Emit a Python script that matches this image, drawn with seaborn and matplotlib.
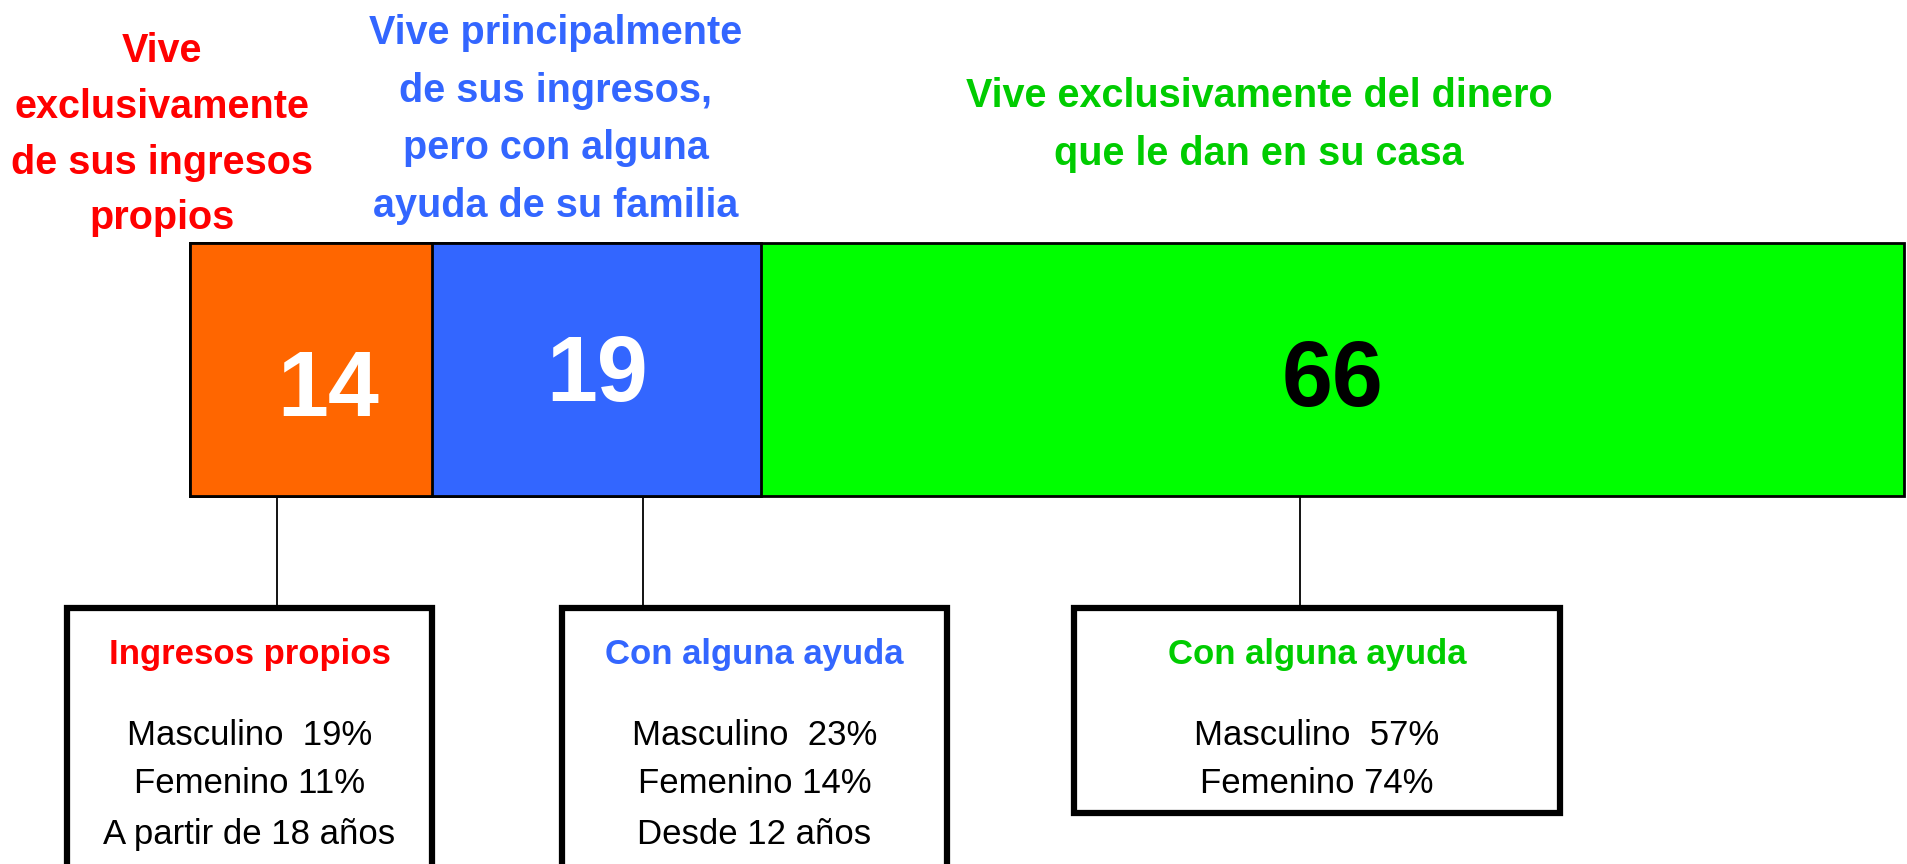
import matplotlib
matplotlib.use("Agg")
import matplotlib.pyplot as plt
from matplotlib.patches import Rectangle
from matplotlib.lines import Line2D
import seaborn as sns
import pandas as pd
import numpy as np

# ---------------- data ----------------
categories = [
    "Vive exclusivamente de sus ingresos propios",
    "Vive principalmente de sus ingresos, pero con alguna ayuda de su familia",
    "Vive exclusivamente del dinero que le dan en su casa",
]
values = [14, 19, 66]
title_lines = [
    ["Vive", "exclusivamente", "de sus ingresos", "propios"],
    ["Vive principalmente", "de sus ingresos,", "pero con alguna", "ayuda de su familia"],
    ["Vive exclusivamente del dinero", "que le dan en su casa"],
]
box_titles = ["Ingresos propios", "Con alguna ayuda", "Con alguna ayuda"]
box_lines = [
    ["Masculino  19%", "Femenino 11%", "A partir de 18 años"],
    ["Masculino  23%", "Femenino 14%", "Desde 12 años"],
    ["Masculino  57%", "Femenino 74%"],
]

# ---------------- style ----------------
bar_colors = ["#FF6600", "#3366FF", "#00FF00"]
title_colors = ["#FF0000", "#3366FF", "#00CC00"]
number_colors = ["white", "white", "black"]

sns.set_theme(style="white")
FONT = ["Liberation Sans", "DejaVu Sans"]
plt.rcParams["font.family"] = FONT

W, H = 1908, 864
fig = plt.figure(figsize=(W / 100, H / 100), dpi=100)
fig.patch.set_facecolor("white")

def fx(px):
    return px / W

def fy(py):
    return 1 - py / H

# bar axes
bar_left, bar_right, bar_top, bar_bottom = 190, 1904, 243, 496
ax = fig.add_axes([fx(bar_left), fy(bar_bottom), fx(bar_right - bar_left), (bar_bottom - bar_top) / H])

df = pd.DataFrame({"cat": categories, "value": values, "color": bar_colors})
df["cum"] = df["value"].cumsum()
df["start"] = df["cum"] - df["value"]

# stacked bar: draw cumulative totals from largest to smallest
for i in reversed(range(len(df))):
    sns.barplot(x=[df["cum"].iloc[i]], y=["total"], orient="h", color=df["color"].iloc[i],
                width=1.0, edgecolor="black", linewidth=2, saturation=1, ax=ax)
for p in ax.patches:
    p.set_clip_on(False)

ax.set_xlim(0, df["cum"].iloc[-1])
ax.set_ylim(0.5, -0.5)
ax.axis("off")

# numbers inside the bar
num_x_off = [1.0, 0.0, 0.0]
num_base_px = [416, 401, 406]
for i in range(len(df)):
    cx = df["start"].iloc[i] + df["value"].iloc[i] / 2 + num_x_off[i]
    yax = 1 - (num_base_px[i] - bar_top) / (bar_bottom - bar_top)
    ax.text(cx, yax, str(df["value"].iloc[i]),
            transform=ax.get_xaxis_transform(), ha="center", va="baseline",
            fontsize=66, fontweight="bold", color=number_colors[i])

# titles above
title_x_px = [162, 556, 1259]
title_base_px = [[62, 118, 174, 229], [44, 102, 159, 217], [107, 165]]
for i in range(3):
    for line, b in zip(title_lines[i], title_base_px[i]):
        fig.text(fx(title_x_px[i]), fy(b), line, ha="center", va="baseline",
                 fontsize=28.5, fontweight="bold", color=title_colors[i])

# connectors and boxes
conn_x_px = [277, 643, 1300]
box_rect_px = [(67, 432, 608, 900), (562, 947, 608, 900), (1074, 1560, 608, 813)]
box_title_base = 664
box_line_base = [745, 793, 844]
for i in range(3):
    fig.add_artist(Line2D([fx(conn_x_px[i])] * 2, [fy(bar_bottom + 1), fy(608)],
                          transform=fig.transFigure, color="black", linewidth=1.3))
    l, r, t, b = box_rect_px[i]
    fig.add_artist(Rectangle((fx(l), fy(b)), fx(r - l), (b - t) / H, transform=fig.transFigure,
                             facecolor="white", edgecolor="black", linewidth=4.5))
    cx = fx((l + r) / 2)
    fig.text(cx, fy(box_title_base), box_titles[i], ha="center", va="baseline",
             fontsize=25, fontweight="bold", color=title_colors[i])
    for line, bl in zip(box_lines[i], box_line_base):
        fig.text(cx, fy(bl), line, ha="center", va="baseline", fontsize=25, color="black")

fig.savefig("out.png", dpi=100, facecolor="white")
